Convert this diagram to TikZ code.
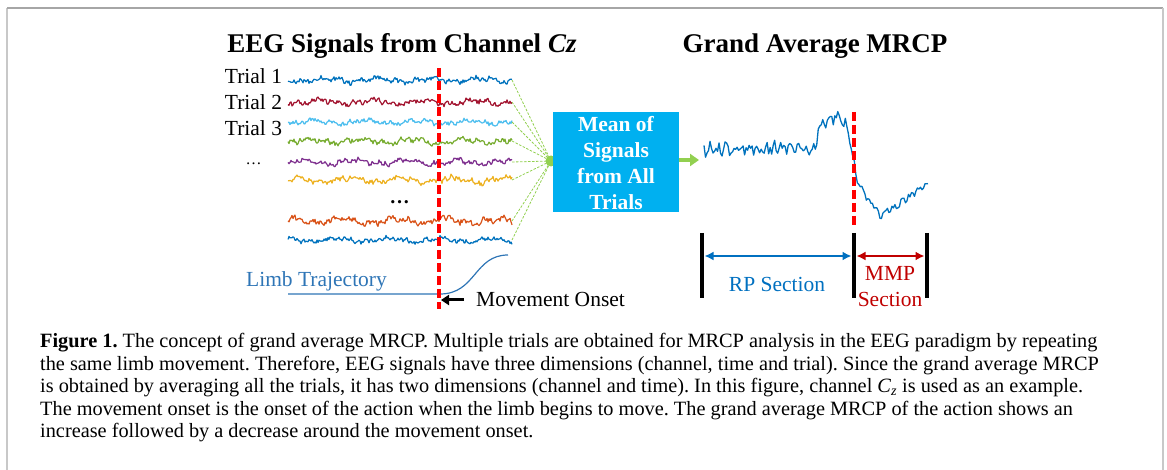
\documentclass[tikz,border=0pt]{standalone}
\usepackage{fontspec}
\setmainfont{Liberation Serif}
\usetikzlibrary{arrows.meta}
\definecolor{mblue}{HTML}{0072BD}
\definecolor{mred}{HTML}{A2142F}
\definecolor{mcyan}{HTML}{4DBEEE}
\definecolor{mgreen}{HTML}{77AC30}
\definecolor{mpurple}{HTML}{7E2F8E}
\definecolor{myellow}{HTML}{EDB120}
\definecolor{morange}{HTML}{D95319}
\definecolor{limbblue}{HTML}{2E75B6}
\definecolor{boxblue}{HTML}{00B0F0}
\definecolor{fangreen}{HTML}{92D050}
\definecolor{rpblue}{HTML}{0070C0}
\definecolor{mmpred}{HTML}{C00000}
\definecolor{framedark}{HTML}{A6A6A6}
\definecolor{framelight}{HTML}{C8C8C8}
\newcommand\trialwave[5]{%
  \draw[wave,#1] plot[domain=0:224,samples=225]
    ({288+\x},{#2+#4*(1.9*rand+1.8*sin(7*\x+#3)+1.2*sin(19*\x+2*#3)+0.9*sin(53*\x+3*#3))});
  \coordinate (#5) at (512,#2);}
\begin{document}
\begin{tikzpicture}[x=1pt,y=-1pt,
  declare function={
    mrcpm(\t)=(\t<817)?(150-0.02*(\t-704)):((\t<836)?(128-0.6*(\t-817)):((\t<846)?(116+0.8*(\t-836)):((\t<858)?(124+5*(\t-846)):((\t<880)?(184+1.45*(\t-858)):(216-0.66*(\t-880))))));
    mrcpa(\t)=(\t<817)?1.5:((\t<846)?1.2:0.8);
  },
  wave/.style={line width=1.2pt,line join=round},
  title/.style={font=\fontsize{27}{30}\selectfont\bfseries,anchor=base,inner sep=0pt},
  lab/.style={font=\fontsize{21.5}{26}\selectfont,anchor=base,inner sep=0pt},
  onset/.style={red,line width=3.5pt,dash pattern=on 9pt off 4pt},
  fan/.style={fangreen,line width=0.8pt,dash pattern=on 2.5pt off 1.5pt},
  hubdot/.style={circle,fill=fangreen,inner sep=0pt,minimum size=11pt},
  meanbox/.style={fill=boxblue,minimum width=126pt,minimum height=100pt,inner sep=0pt},
  boxtext/.style={font=\fontsize{21.5}{26.3}\selectfont\bfseries,text=white,align=center,inner sep=0pt},
  secbar/.style={black,line width=4.5pt},
  rparrow/.style={rpblue,line width=2.5pt,{Latex[length=9pt,width=9pt]}-{Latex[length=9pt,width=9pt]}},
  mmparrow/.style={mmpred,line width=2.5pt,{Latex[length=9pt,width=9pt]}-{Latex[length=9pt,width=9pt]}},
  framel/.style={framelight,line width=1.5pt},
  framet/.style={framedark,line width=1.5pt}
]
\useasboundingbox (0,0) rectangle (1167,470);
\pgfmathsetseed{4242}
% frame
\draw[framel] (7,470) -- (7,8);
\draw[framet] (7,8) -- (1163,8);
\draw[framel] (1163,8) -- (1163,470);
% titles
\node[title] (t1) at (402,53) {EEG Signals from Channel \textit{Cz}};
\node[title] (t2) at (815,53) {Grand Average MRCP};
% trial labels
\node[lab] (l1) at (253.5,84) {Trial 1};
\node[lab] (l2) at (253.5,110) {Trial 2};
\node[lab] (l3) at (253.5,136) {Trial 3};
\node[lab,font=\fontsize{16}{18}\selectfont] (l4) at (253.5,165) {\dots};
\node[lab,font=\fontsize{20}{22}\selectfont\bfseries] (l5) at (399.5,204) {\dots};
% waves
\trialwave{mblue}{80}{0}{1}{e1}
\trialwave{mred}{102}{40}{1.1}{e2}
\trialwave{mcyan}{122}{80}{0.9}{e3}
\trialwave{mgreen}{141}{120}{1.1}{e4}
\trialwave{mpurple}{162}{160}{1}{e5}
\trialwave{myellow}{180}{200}{1.2}{e6}
\trialwave{morange}{221}{240}{1.3}{e7}
\trialwave{mblue}{240}{280}{0.9}{e8}
% limb trajectory
\coordinate (ls) at (288,294);
\coordinate (lo) at (440,294);
\coordinate (le) at (508,255);
\draw[limbblue,line width=1.2pt] (ls) -- (lo) .. controls (476,294) and (474,255) .. (le);
\node[lab,text=limbblue] (limb) at (316.5,287) {Limb Trajectory};
% onset line
\coordinate (ot) at (439,68);
\coordinate (ob) at (439,309);
\draw[onset] (ot) -- (ob);
\node[lab,anchor=base west] (mo) at (476,307) {Movement Onset};
\coordinate (mos) at (464,300);
\coordinate (moe) at (441,300);
\draw[black,line width=3pt,-{Triangle[length=8pt,width=10pt]}] (mos) -- (moe);
% fan to hub
\node[hubdot] (hub) at (551,161) {};
\foreach \e in {e1,e2,e3,e4,e5,e6,e7,e8}{\draw[fan] (\e) -- (hub.center);}
% mean box
\node[meanbox] (box) at (616,162) {};
\node[boxtext] (boxt) at (616,163) {Mean of\\Signals\\from All\\Trials};
\coordinate (mrin) at (699,160);
\draw[fangreen,line width=4pt,-{Triangle[length=9pt,width=12pt]}] (box.east |- mrin) -- (mrin);
% grand average
\draw[mblue,line width=1.3pt,line join=round] plot[domain=0:224,samples=150]
  ({704+\x},{mrcpm(704+\x)+mrcpa(704+\x)*(3.5*rand+2.5*sin(45*\x))});
\coordinate (gt) at (854,112);
\coordinate (gb) at (854,226);
\draw[onset] (gt) -- (gb);
% sections
\coordinate (b1t) at (702,233); \coordinate (b1b) at (702,298);
\coordinate (b2t) at (854,233); \coordinate (b2b) at (854,298);
\coordinate (b3t) at (927,233); \coordinate (b3b) at (927,298);
\draw[secbar] (b1t) -- (b1b);
\draw[secbar] (b2t) -- (b2b);
\draw[secbar] (b3t) -- (b3b);
\coordinate (ra) at (704.5,256); \coordinate (rb) at (851.5,256);
\coordinate (ma) at (856.5,256); \coordinate (mb) at (924.5,256);
\draw[rparrow] (ra) -- (rb);
\draw[mmparrow] (ma) -- (mb);
\node[lab,text=rpblue] (rp) at (777,292) {RP Section};
\node[lab,text=mmpred] (mmp1) at (890,280) {MMP};
\node[lab,text=mmpred] (mmp2) at (890,306) {Section};
% caption
\node[anchor=north west,align=left,inner sep=0pt,font=\fontsize{20.3}{22.6}\selectfont\frenchspacing] (cap) at (40,333)
{\textbf{Figure 1.} The concept of grand average MRCP. Multiple trials are obtained for MRCP analysis in the EEG paradigm by repeating\\
the same limb movement. Therefore, EEG signals have three dimensions (channel, time and trial). Since the grand average MRCP\\
is obtained by averaging all the trials, it has two dimensions (channel and time). In this figure, channel \textit{C}\textsubscript{\textit{z}} is used as an example.\\
The movement onset is the onset of the action when the limb begins to move. The grand average MRCP of the action shows an\\
increase followed by a decrease around the movement onset.};
\end{tikzpicture}
\end{document}
